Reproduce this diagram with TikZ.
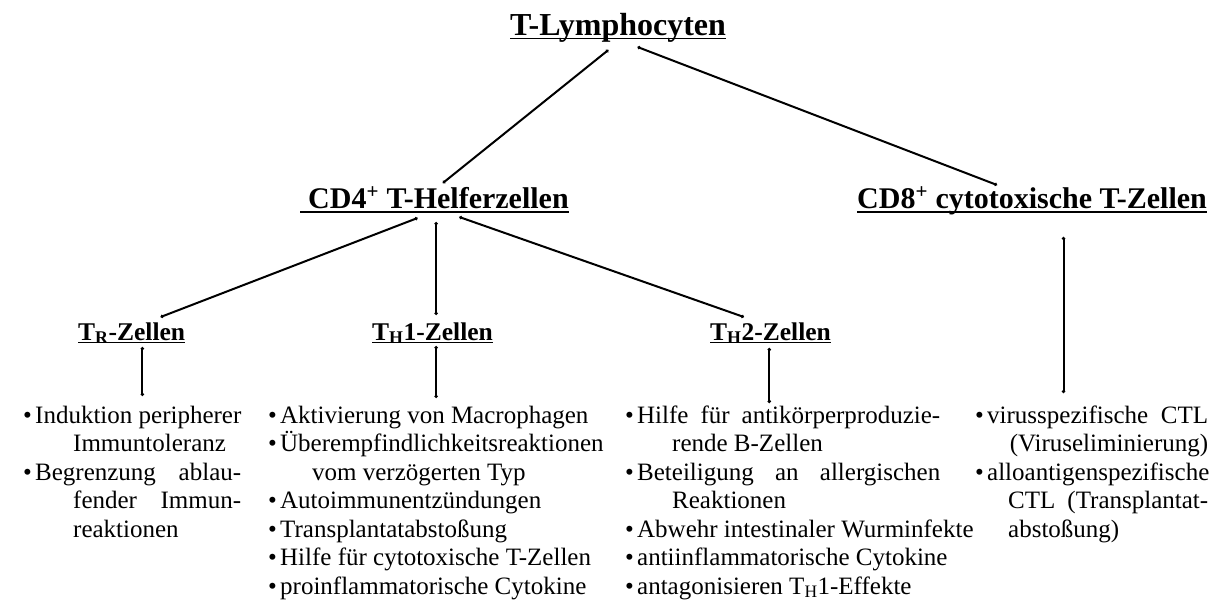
\documentclass[tikz,border=0pt]{standalone}
\usepackage{fontspec}
\setmainfont{Liberation Serif}
\usetikzlibrary{calc,arrows.meta}

% bullet followed by the item text
\newcommand{\bulitem}[1]{\makebox[12pt][l]{•}#1}

\tikzset{
  title/.style={font=\bfseries\fontsize{32}{36}\selectfont, inner sep=0pt, anchor=base west},
  head/.style={font=\bfseries\fontsize{30}{34}\selectfont, inner sep=0pt, anchor=base west},
  sub/.style={font=\bfseries\fontsize{25.5}{30}\selectfont, inner sep=0pt, anchor=base west},
  items/.style={font=\fontsize{25}{28.5}\selectfont, align=left, inner sep=0pt, anchor=north west},
  uline/.style={line width=1.8pt},
  link/.style={line width=2pt, line cap=round, {Circle[length=3.2pt]}-{Circle[length=3.2pt]}},
}

\begin{document}
\begin{tikzpicture}[x=1pt,y=-1pt]
\useasboundingbox (0,0) rectangle (1220,605);

% headings
\node[title] (top) at (510,35) {T-Lymphocyten};
\node[head]  (cd4) at (308,208) {CD4\textsuperscript{+} T-Helferzellen};
\node[head]  (cd8) at (857,208) {CD8\textsuperscript{+} cytotoxische T-Zellen};
\node[sub]   (tr)  at (78,340)  {T\textsubscript{R}-Zellen};
\node[sub]   (th1) at (372,340) {T\textsubscript{H}1-Zellen};
\node[sub]   (th2) at (710,340) {T\textsubscript{H}2-Zellen};

% underlines
\draw[uline] ($(top.base west)+(0,3.5)$) -- ($(top.base east)+(0,3.5)$);
\draw[uline] ($(cd4.base west)+(-8,4)$) -- ($(cd4.base east)+(0,4)$);
\draw[uline] ($(cd8.base west)+(0,4)$) -- ($(cd8.base east)+(0,4)$);
\foreach \n in {tr,th1,th2}
  \draw[uline] ($(\n.base west)+(0,2.5)$) -- ($(\n.base east)+(0,2.5)$);

% lists
\node[items] (trlist) at (23,403) {\rule{0pt}{20pt}\bulitem{Induktion peripherer}\\
  \hspace*{50pt}Immuntoleranz\\
  \bulitem{\makebox[206pt][s]{Begrenzung ablau-}}\\
  \hspace*{50pt}\makebox[168pt][s]{fender Immun-}\\
  \hspace*{50pt}reaktionen};

\node[items] (th1list) at (268,403) {\rule{0pt}{20pt}\bulitem{Aktivierung von Macrophagen}\\
  \bulitem{Überempfindlichkeitsreaktionen}\\
  \hspace*{44pt}vom verzögerten Typ\\
  \bulitem{Autoimmunentzündungen}\\
  \bulitem{Transplantatabstoßung}\\
  \bulitem{Hilfe für cytotoxische T-Zellen}\\
  \bulitem{proinflammatorische Cytokine}};

\node[items] (th2list) at (625,403) {\rule{0pt}{20pt}\bulitem{\makebox[303pt][s]{Hilfe für antikörperproduzie-}}\\
  \hspace*{47pt}rende B-Zellen\\
  \bulitem{\makebox[303pt][s]{Beteiligung an allergischen}}\\
  \hspace*{47pt}Reaktionen\\
  \bulitem{Abwehr intestinaler Wurminfekte}\\
  \bulitem{antiinflammatorische Cytokine}\\
  \bulitem{antagonisieren T\textsubscript{H}1-Effekte}};

\node[items] (cd8list) at (975,403) {\rule{0pt}{20pt}\bulitem{\makebox[221pt][s]{virusspezifische CTL}}\\
  \hspace*{12pt}\makebox[221pt][r]{(Viruseliminierung)}\\
  \bulitem{alloantigenspezifische}\\
  \hspace*{33pt}\makebox[200pt][s]{CTL (Transplantat-}\\
  \hspace*{33pt}abstoßung)};

% connectors between levels
\draw[link] ($(top.base west)!0.455!(top.base east)+(0,15)$) -- ($(cd4.base west)!0.517!(cd4.base east)+(0,-25)$);
\draw[link] ($(top.base west)!0.59!(top.base east)+(0,12)$) -- ($(cd8.base west)!0.40!(cd8.base east)+(0,-23)$);

\coordinate (h1) at ($(th1.base west)!0.53!(th1.base east)$);
\coordinate (cd4low) at ($(cd4.base)+(0,14)$);
\draw[link] ($(cd4.base west)!0.42!(cd4.base east)+(0,10)$) -- ($(tr.base west)!0.77!(tr.base east)+(0,-23)$);
\draw[link] (h1 |- cd4low) -- ($(h1)+(0,-25)$);
\draw[link] ($(cd4.base west)!0.58!(cd4.base east)+(0,9)$) -- ($(th2.base west)!0.28!(th2.base east)+(0,-23)$);

% connectors down to the lists
\coordinate (trv) at ($(tr.base west)!0.6!(tr.base east)+(0,7)$);
\draw[link] (trv) -- ($(trv |- trlist.north)+(0,-7)$);
\coordinate (th1v) at ($(h1)+(0,6)$);
\draw[link] (th1v) -- ($(th1v |- th1list.north)+(0,-5)$);
\coordinate (th2v) at ($(th2.base west)!0.49!(th2.base east)+(0,8)$);
\draw[link] (th2v) -- ($(th2v |- th2list.north)+(0,0)$);
\coordinate (cd8v) at ($(cd8.base west)!0.59!(cd8.base east)+(0,29)$);
\draw[link] (cd8v) -- ($(cd8v |- cd8list.north)+(0,-10)$);
\end{tikzpicture}
\end{document}
